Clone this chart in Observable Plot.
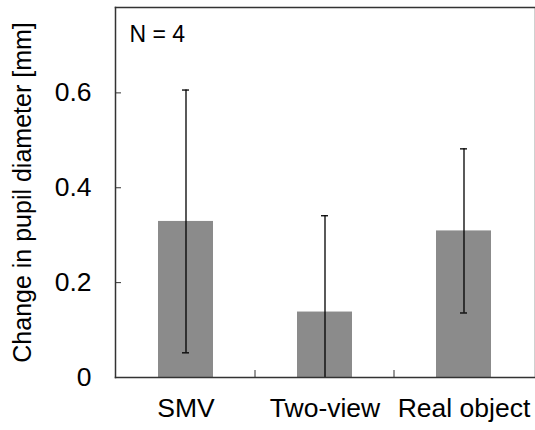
<!DOCTYPE html>
<html><head><meta charset="utf-8">
<script src="https://cdn.jsdelivr.net/npm/d3@7"></script>
<script src="https://cdn.jsdelivr.net/npm/@observablehq/plot@0.6"></script>
<style>body{margin:0;background:#fff}</style>
</head><body><div id="chart"></div>
<script>
const categories = ["SMV", "Two-view", "Real object"];
const means = [0.329, 0.138, 0.309];
const sds = [0.277, 0.203, 0.173];
const yTicks = [0, 0.2, 0.4, 0.6];
const yLabel = "Change in pupil diameter [mm]";
const note = "N = 4";

const data = categories.map((c, i) => ({cat: c, mean: means[i], lo: means[i] - sds[i], hi: means[i] + sds[i]}));

const chart = Plot.plot({
  width: 535, height: 430,
  marginLeft: 115, marginRight: 1, marginTop: 7, marginBottom: 53,
  style: {fontFamily: '"Liberation Sans", Arial, sans-serif', fontSize: "26px", color: "#000", background: "#fff"},
  x: {domain: categories, padding: 0, axis: null, label: null},
  y: {domain: [0, 0.78], axis: null, label: null},
  marks: [
    Plot.frame({stroke: "#d0d0d0"}),
    Plot.barY(data, {x: "cat", y: "mean", fill: "#8b8b8b", insetLeft: 42, insetRight: 42}),
    Plot.ruleX(data, {x: "cat", y1: "lo", y2: "hi", stroke: "#000", strokeWidth: 1.3, clip: true}),
    Plot.tickY(data, {x: "cat", y: "hi", stroke: "#000", strokeWidth: 1.3, insetLeft: 66, insetRight: 66, clip: true}),
    Plot.tickY(data, {x: "cat", y: "lo", stroke: "#000", strokeWidth: 1.3, insetLeft: 66, insetRight: 66, clip: true}),
    Plot.frame({anchor: "left", stroke: "#333", strokeWidth: 1.5}),
    Plot.frame({anchor: "top", stroke: "#333", strokeWidth: 1.5}),
    Plot.frame({anchor: "bottom", stroke: "#333", strokeWidth: 1.5}),
    Plot.axisY(yTicks, {tickSize: -6, text: null, stroke: "#333", label: null}),
    Plot.axisY(yTicks, {tickSize: 0, tickPadding: 24, tickFormat: d => d === 0 ? "0" : d.toFixed(1), fontSize: 26.5, label: null}),
    Plot.axisX(categories.slice(1), {tickSize: -7, dx: -70, text: null, stroke: "#333", label: null}),
    Plot.axisX({tickSize: 0, tickPadding: 21, fontSize: 26.5, label: null}),
    Plot.text([yLabel], {frameAnchor: "left", rotate: -90, dx: -93, textAnchor: "middle", lineAnchor: "middle", fontSize: 25}),
    Plot.text([note], {frameAnchor: "top-left", dx: 14, dy: 18, textAnchor: "start", fontSize: 23})
  ]
});
document.getElementById("chart").append(chart);
</script>
</body></html>
